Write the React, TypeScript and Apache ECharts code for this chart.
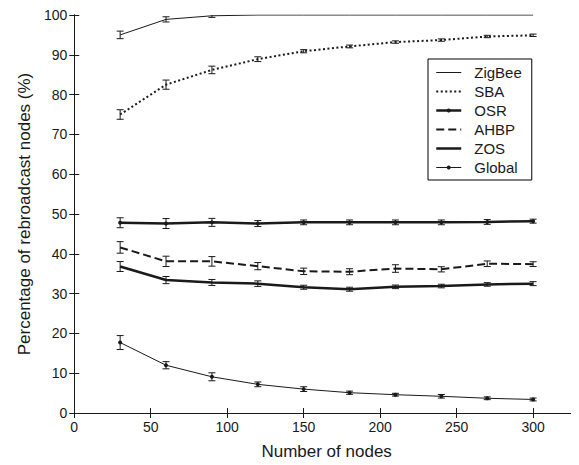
import React, { useEffect, useRef } from "react";
import * as echarts from "echarts";

const nodes = [30, 60, 90, 120, 150, 180, 210, 240, 270, 300];
const xTicks = [0, 50, 100, 150, 200, 250, 300];

const zigbee = [95.0, 98.9, 99.8, 100, 100, 100, 100, 100, 100, 100];
const zigbeeErr = [0.95, 0.65, 0.4, 0, 0, 0, 0, 0, 0, 0];
const sba = [75.0, 82.5, 86.2, 88.9, 90.9, 92.1, 93.2, 93.7, 94.6, 94.9];
const sbaErr = [1.2, 1.15, 0.95, 0.6, 0.4, 0.35, 0.3, 0.3, 0.3, 0.3];
const osr = [47.8, 47.6, 47.9, 47.6, 47.9, 47.9, 47.9, 47.9, 48.0, 48.2];
const osrErr = [1.25, 1.25, 1.0, 0.75, 0.6, 0.6, 0.6, 0.6, 0.6, 0.5];
const ahbp = [41.6, 38.1, 38.1, 36.9, 35.6, 35.5, 36.3, 36.1, 37.5, 37.4];
const ahbpErr = [1.45, 1.3, 1.2, 0.9, 0.8, 0.75, 0.95, 0.65, 0.7, 0.6];
const zos = [36.8, 33.4, 32.8, 32.5, 31.6, 31.1, 31.7, 31.9, 32.3, 32.5];
const zosErr = [1.25, 0.9, 0.75, 0.7, 0.5, 0.5, 0.45, 0.45, 0.45, 0.5];
const globalV = [17.7, 12.0, 9.1, 7.2, 6.0, 5.1, 4.6, 4.2, 3.7, 3.4];
const globalErr = [1.75, 0.9, 1.0, 0.6, 0.6, 0.4, 0.35, 0.45, 0.35, 0.35];

const FONT = "Liberation Sans, Arial, sans-serif";
const INK = "#1a1a1a";

type S = {
  name: string;
  values: number[];
  errs: number[];
  width: number;
  type: any;
  symbol: boolean;
};

const seriesDefs: S[] = [
  { name: "ZigBee", values: zigbee, errs: zigbeeErr, width: 1, type: "solid", symbol: false },
  { name: "SBA", values: sba, errs: sbaErr, width: 2, type: [2, 2.5], symbol: false },
  { name: "OSR", values: osr, errs: osrErr, width: 2.5, type: "solid", symbol: true },
  { name: "AHBP", values: ahbp, errs: ahbpErr, width: 2, type: [8, 4], symbol: false },
  { name: "ZOS", values: zos, errs: zosErr, width: 2.5, type: "solid", symbol: false },
  { name: "Global", values: globalV, errs: globalErr, width: 1, type: "solid", symbol: true },
];

function errRender(params: any, api: any) {
  const x = api.value(0);
  const lo = api.coord([x, api.value(1)]);
  const hi = api.coord([x, api.value(2)]);
  const w = 3.5;
  const st = { stroke: INK, lineWidth: 1 };
  return {
    type: "group",
    children: [
      { type: "line", shape: { x1: lo[0], y1: lo[1], x2: hi[0], y2: hi[1] }, style: st },
      { type: "line", shape: { x1: lo[0] - w, y1: lo[1], x2: lo[0] + w, y2: lo[1] }, style: st },
      { type: "line", shape: { x1: hi[0] - w, y1: hi[1], x2: hi[0] + w, y2: hi[1] }, style: st },
    ],
  };
}

export default function App() {
  const ref = useRef<HTMLDivElement>(null);
  useEffect(() => {
    if (!ref.current) return;
    const chart = echarts.init(ref.current, null, { renderer: "svg" });
    const lineSeries = seriesDefs.map((s) => ({
      name: s.name,
      type: "line",
      data: nodes.map((x, i) => [x, s.values[i]]),
      symbol: s.symbol ? "circle" : "none",
      symbolSize: 4,
      showSymbol: s.symbol,
      itemStyle: { color: INK },
      lineStyle: { color: INK, width: s.width, type: s.type },
      z: 3,
    }));
    const errSeries = seriesDefs.map((s) => ({
      name: s.name + " error",
      type: "custom",
      renderItem: errRender,
      data: nodes
        .map((x, i) => [x, s.values[i] - s.errs[i], s.values[i] + s.errs[i], s.errs[i]])
        .filter((d) => d[3] > 0),
      encode: { x: 0, y: [1, 2] },
      clip: true,
      z: 4,
    }));
    const axisLine = { lineStyle: { color: INK, width: 1 } };
    chart.setOption({
      animation: false,
      backgroundColor: "#fff",
      grid: { left: 59, right: -3, top: 5, bottom: 42, containLabel: false },
      legend: {
        data: seriesDefs.map((s) => ({
          name: s.name,
          itemStyle: s.symbol ? { color: INK, opacity: 1 } : { opacity: 0 },
          lineStyle: { color: INK, width: s.width, type: s.type },
        })),
        orient: "vertical",
        left: 420,
        top: 51,
        padding: [5, 10, 4, 7],
        itemWidth: 25,
        itemHeight: 5,
        itemGap: 2,
        borderColor: "#000",
        borderWidth: 1,
        backgroundColor: "#fff",
        borderRadius: 0,
        textStyle: { fontFamily: FONT, fontSize: 15, color: INK, padding: [0, 0, 0, 8], lineHeight: 17 },
      },
      xAxis: [
        {
          type: "value",
          min: 0,
          max: 330,
          interval: 50,
          axisLine,
          axisTick: { inside: true, length: 5, lineStyle: { color: INK } },
          splitLine: { show: false },
          axisLabel: {
            fontFamily: FONT,
            fontSize: 14,
            color: INK,
            margin: 7,
            showMaxLabel: false,
            formatter: (v: number) => (xTicks.includes(v) ? String(v) : ""),
          },
          name: "Number of nodes",
          nameLocation: "middle",
          nameGap: 30,
          nameTextStyle: { fontFamily: FONT, fontSize: 17, color: INK },
        },
        {
          type: "value",
          position: "top",
          min: 0,
          max: 330,
          interval: 50,
          axisLine,
          axisTick: { inside: true, length: 5, lineStyle: { color: INK } },
          axisLabel: { show: false },
          splitLine: { show: false },
        },
      ],
      yAxis: [
        {
          type: "value",
          min: 0,
          max: 100,
          interval: 10,
          axisLine: { show: true, ...axisLine },
          axisTick: { show: true, inside: true, length: 5, lineStyle: { color: INK } },
          splitLine: { show: false },
          axisLabel: { fontFamily: FONT, fontSize: 14, color: INK, margin: 7 },
          name: "Percentage of rebroadcast nodes (%)",
          nameLocation: "middle",
          nameGap: 40,
          nameTextStyle: { fontFamily: FONT, fontSize: 17, color: INK },
        },
        {
          type: "value",
          position: "right",
          min: 0,
          max: 100,
          interval: 10,
          axisLine: { show: true, ...axisLine },
          axisTick: { show: true, inside: true, length: 5, lineStyle: { color: INK } },
          axisLabel: { show: false },
          splitLine: { show: false },
        },
      ],
      series: [...lineSeries, ...errSeries],
    });
    return () => chart.dispose();
  }, []);
  return <div ref={ref} style={{ width: 571, height: 457 }} />;
}
